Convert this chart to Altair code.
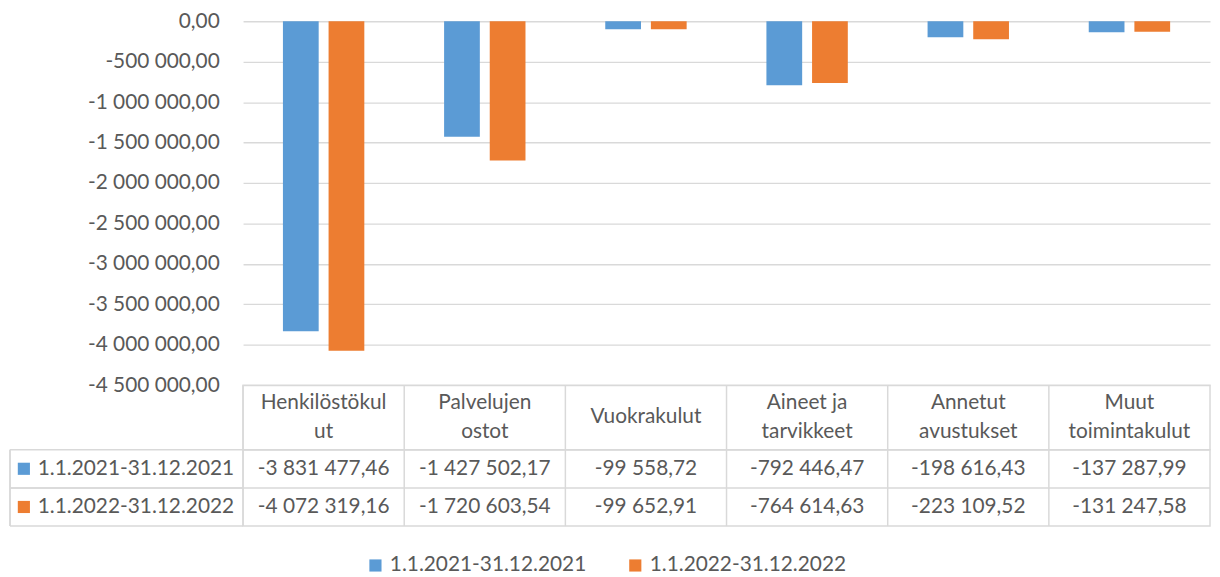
import altair as alt
import pandas as pd

categories = ["Henkilöstökulut", "Palvelujen ostot", "Vuokrakulut",
              "Aineet ja tarvikkeet", "Annetut avustukset", "Muut toimintakulut"]
header_labels = ["Henkilöstökul\nut", "Palvelujen\nostot", "Vuokrakulut",
                 "Aineet ja\ntarvikkeet", "Annetut\navustukset", "Muut\ntoimintakulut"]
series = ["1.1.2021-31.12.2021", "1.1.2022-31.12.2022"]
values_2021 = [-3831477.46, -1427502.17, -99558.72, -792446.47, -198616.43, -137287.99]
values_2022 = [-4072319.16, -1720603.54, -99652.91, -764614.63, -223109.52, -131247.58]
y_ticks = [0, -500000, -1000000, -1500000, -2000000, -2500000,
           -3000000, -3500000, -4000000, -4500000]
colors = ["#5B9BD5", "#ED7D31"]

FONT = "Lato"
TXT = "#595959"
GRID = "#D9D9D9"
FS = 21
W = 975
LEFT_COL = 235

rows = []
for c, v1, v2 in zip(categories, values_2021, values_2022):
    rows.append({"category": c, "series": series[0], "value": v1})
    rows.append({"category": c, "series": series[1], "value": v2})
df = pd.DataFrame(rows)
hdr_df = pd.DataFrame({"category": categories, "label": header_labels})
ser_df = pd.DataFrame({"series": series})

FMT = ("replace(replace(replace(format(datum.value, ',.2f'), regexp(',', 'g'), ' '), "
       "'.', ','), '\u2212', '-')")

color_scale = alt.Scale(domain=series, range=colors)

bars = alt.Chart(df).mark_bar().encode(
    x=alt.X("category:N", sort=categories, axis=None,
            scale=alt.Scale(paddingInner=0.495, paddingOuter=0.2475)),
    xOffset=alt.XOffset("series:N", sort=series,
                        scale=alt.Scale(paddingInner=0.217, paddingOuter=0)),
    y=alt.Y("value:Q", scale=alt.Scale(domain=[-4500000, 0], nice=False),
            axis=alt.Axis(values=y_ticks, labelExpr=FMT, title=None, domain=False,
                          ticks=False, labelPadding=24, labelFontSize=FS,
                          labelFont=FONT, labelColor=TXT, gridColor=GRID,
                          gridWidth=1.3)),
    color=alt.Color("series:N", sort=series, scale=color_scale,
                    legend=alt.Legend(title=None, orient="none", legendX=123, legendY=538,
                                      direction="horizontal",
                                      labelFontSize=FS, labelFont=FONT, labelColor=TXT,
                                      labelLimit=0,
                                      symbolType="square", symbolSize=150,
                                      symbolStrokeWidth=0, columnPadding=38,
                                      labelOffset=4)),
).properties(width=W, height=367)

x_tab = alt.X("category:N", sort=categories, axis=None,
              scale=alt.Scale(paddingInner=0, paddingOuter=0))

header_two = alt.Chart(hdr_df).transform_filter(
    "indexof(datum.label, '\\n') >= 0"
).mark_text(
    fontSize=FS, font=FONT, color=TXT, lineBreak="\n", lineHeight=29, dy=-14.5
).encode(x=x_tab, text="label:N")
header_one = alt.Chart(hdr_df).transform_filter(
    "indexof(datum.label, '\\n') < 0"
).mark_text(
    fontSize=FS, font=FONT, color=TXT
).encode(x=x_tab, text="label:N")
header_lines = alt.Chart(hdr_df).mark_rule(color=GRID, strokeWidth=1.5).encode(
    x=alt.X("category:N", sort=categories, axis=None, bandPosition=0,
            scale=alt.Scale(paddingInner=0, paddingOuter=0)))
header = alt.layer(header_lines, header_two, header_one).properties(
    width=W, height=65, view=alt.ViewBackground(stroke=GRID, strokeWidth=1.5))

y_row = alt.Y("series:N", sort=series, axis=None,
              scale=alt.Scale(paddingInner=0, paddingOuter=0))

cells = alt.Chart(df).transform_calculate(txt=FMT).mark_text(
    fontSize=FS, font=FONT, color=TXT
).encode(x=x_tab, y=y_row, text="txt:N")
vlines = alt.Chart(hdr_df).mark_rule(color=GRID, strokeWidth=1.5).encode(
    x=alt.X("category:N", sort=categories, axis=None, bandPosition=0,
            scale=alt.Scale(paddingInner=0, paddingOuter=0)))
hlines_top = alt.Chart(ser_df).mark_rule(color=GRID, strokeWidth=1.5).encode(
    y=alt.Y("series:N", sort=series, axis=None, bandPosition=0,
            scale=alt.Scale(paddingInner=0, paddingOuter=0)),
    x=alt.value(-LEFT_COL), x2=alt.value(W))
hlines_bot = alt.Chart(ser_df).mark_rule(color=GRID, strokeWidth=1.5).encode(
    y=alt.Y("series:N", sort=series, axis=None, bandPosition=1,
            scale=alt.Scale(paddingInner=0, paddingOuter=0)),
    x=alt.value(-LEFT_COL), x2=alt.value(0))
left_border = alt.Chart(ser_df).mark_rule(color=GRID, strokeWidth=1.5).encode(
    x=alt.value(-LEFT_COL), y=alt.value(0), y2=alt.value(77))
row_labels = alt.Chart(ser_df).mark_text(
    fontSize=FS, font=FONT, color=TXT, align="left"
).encode(x=alt.value(-207), y=y_row, text="series:N")
row_swatches = alt.Chart(ser_df).mark_point(
    shape="square", filled=True, size=150, opacity=1
).encode(x=alt.value(-221), y=y_row,
         color=alt.Color("series:N", sort=series, scale=color_scale, legend=None))

table = alt.layer(vlines, hlines_top, hlines_bot, left_border, cells,
                  row_labels, row_swatches).properties(
    width=W, height=77, view=alt.ViewBackground(stroke=GRID, strokeWidth=1.5))

chart = alt.vconcat(bars, header, table, spacing=0, bounds="flush").properties(
    padding=0
).configure_view(stroke=None)

chart.save("out.html", embed_options={"renderer": "svg", "actions": False})
